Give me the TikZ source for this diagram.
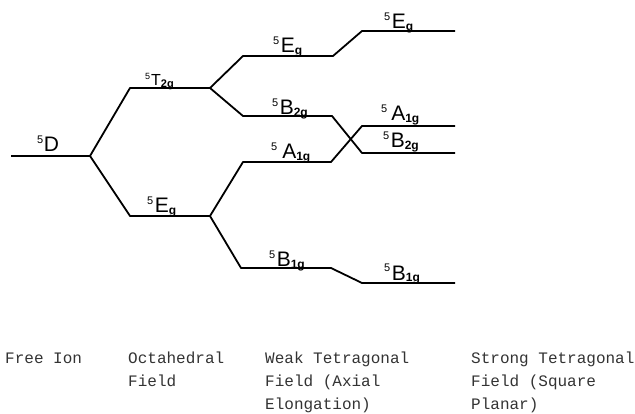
\documentclass[tikz,border=0pt]{standalone}
\usepackage{fontspec}
\setmainfont{Liberation Sans}
\newfontfamily\capfont{Liberation Mono}
\newcommand\lvl[2]{\raisebox{8.5pt}{\fontsize{11}{11}\selectfont 5}\hspace{1.5pt}#1\raisebox{-1.5pt}{\fontsize{12}{12}\selectfont\bfseries #2}}
\begin{document}
\begin{tikzpicture}[x=1pt,y=-1pt,
  level/.style={line width=1.8pt, line join=round},
  lab/.style={anchor=base west, inner sep=0pt, font=\fontsize{21}{21}\selectfont},
  captxt/.style={anchor=base west, inner sep=0pt, text=black!80, font=\capfont\fontsize{16}{16}\selectfont}]
\useasboundingbox (0,0) rectangle (635,414);
% level end points
\coordinate (fiL) at (11,156);   \coordinate (fiR) at (90,156);
\coordinate (tL) at (130,88);    \coordinate (tR) at (210,88);
\coordinate (eoL) at (130,216);  \coordinate (eoR) at (210,216);
\coordinate (ewL) at (243,56);   \coordinate (ewR) at (333,56);
\coordinate (bwL) at (243,116);  \coordinate (bwR) at (332,116);
\coordinate (awL) at (243,162);  \coordinate (awR) at (331,162);
\coordinate (b1wL) at (241,268); \coordinate (b1wR) at (331,268);
\coordinate (esL) at (362,31);   \coordinate (esR) at (455,31);
\coordinate (asL) at (362,126);  \coordinate (asR) at (455,126);
\coordinate (bsL) at (362,153);  \coordinate (bsR) at (455,153);
\coordinate (b1sL) at (362,283); \coordinate (b1sR) at (455,283);
% levels and correlation lines
\draw[level] (fiL) -- (fiR) -- (tL) -- (tR) -- (ewL) -- (ewR) -- (esL) -- (esR);
\draw[level] (fiR) -- (eoL) -- (eoR) -- (b1wL) -- (b1wR) -- (b1sL) -- (b1sR);
\draw[level] (tR) -- (bwL) -- (bwR) -- (bsL) -- (bsR);
\draw[level] (eoR) -- (awL) -- (awR) -- (asL) -- (asR);
% labels
\node[lab] (lD) at (37,152) {\raisebox{8.5pt}{\fontsize{11}{11}\selectfont 5}\hspace{0.5pt}D};
\node[lab] (lT) at (145,86) {\fontsize{16}{16}\selectfont\raisebox{6pt}{\fontsize{9}{9}\selectfont 5}\hspace{1pt}T\raisebox{-1.5pt}{\fontsize{11}{11}\selectfont\bfseries 2g}};
\node[lab] (lEo) at (147,213) {\lvl{E}{g}};
\node[lab] (lEw) at (273,53) {\lvl{E}{g}};
\node[lab] (lBw) at (272,115) {\lvl{B}{2g}};
\node[lab] (lAw) at (271,159) {\raisebox{8.5pt}{\fontsize{11}{11}\selectfont 5}\hspace{5pt}A\raisebox{-1.5pt}{\fontsize{12}{12}\selectfont\bfseries 1g}};
\node[lab] (lB1w) at (269,267) {\lvl{B}{1g}};
\node[lab] (lEs) at (384,29) {\lvl{E}{g}};
\node[lab] (lAs) at (381,121) {\raisebox{8.5pt}{\fontsize{11}{11}\selectfont 5}\hspace{4pt}A\raisebox{-1.5pt}{\fontsize{12}{12}\selectfont\bfseries 1g}};
\node[lab] (lBs) at (383,148) {\lvl{B}{2g}};
\node[lab] (lB1s) at (384,280) {\lvl{B}{1g}};
% captions
\node[captxt] (c1) at (5,363) {Free Ion};
\node[captxt] (c2a) at (128,363) {Octahedral};
\node[captxt] (c2b) at (128,386) {Field};
\node[captxt] (c3a) at (265,363) {Weak Tetragonal};
\node[captxt] (c3b) at (265,386) {Field (Axial};
\node[captxt] (c3c) at (265,409) {Elongation)};
\node[captxt] (c4a) at (471,363) {Strong Tetragonal};
\node[captxt] (c4b) at (471,386) {Field (Square};
\node[captxt] (c4c) at (471,409) {Planar)};
\end{tikzpicture}
\end{document}
